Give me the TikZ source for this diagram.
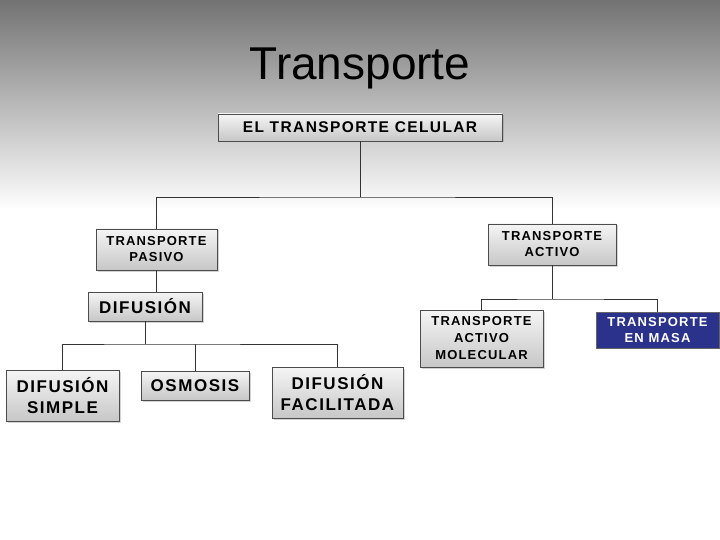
\documentclass[tikz,border=0pt]{standalone}
\usepackage{fontspec}
\setmainfont{Liberation Sans}
\newfontfamily\bx[LetterSpace=9]{Liberation Sans}
\usetikzlibrary{shadows}
\definecolor{navy}{RGB}{42,50,140}
\begin{document}
\begin{tikzpicture}[x=1pt,y=-1pt,
 box/.style={draw=black!70,line width=0.6pt,top color=black!4,bottom color=black!22,align=center,inner sep=0pt,drop shadow={shadow xshift=1.5pt,shadow yshift=-1.5pt,opacity=0.35}},
 link/.style={draw=black!80,line width=0.6pt}]
\useasboundingbox (0,0) rectangle (720,540);
\shade[top color=black!55,bottom color=white] (0,0) rectangle (720,210);
\node[font=\fontsize{46}{50}\selectfont] (title) at (360,68) {Transporte};
\node[box,minimum width=284pt,minimum height=27pt,font=\bx\bfseries\fontsize{15.5}{16}\selectfont] (root) at (360,127.5) {EL TRANSPORTE CELULAR};
\node[box,minimum width=121pt,minimum height=41pt,font=\bx\bfseries\fontsize{13}{16}\selectfont] (pas) at (156.5,249.5) {TRANSPORTE\\PASIVO};
\node[box,minimum width=128pt,minimum height=41pt,font=\bx\bfseries\fontsize{13}{16}\selectfont] (act) at (552,244.5) {TRANSPORTE\\ACTIVO};
\node[box,minimum width=114pt,minimum height=29pt,font=\bx\bfseries\fontsize{17}{18}\selectfont] (dif) at (145,306.5) {DIFUSIÓN};
\node[box,minimum width=113pt,minimum height=51pt,font=\bx\bfseries\fontsize{17}{21}\selectfont] (sim) at (62.5,395.5) {DIFUSIÓN\\SIMPLE};
\node[box,minimum width=108pt,minimum height=29pt,font=\bx\bfseries\fontsize{17}{18}\selectfont] (osm) at (195,385.5) {OSMOSIS};
\node[box,minimum width=131pt,minimum height=51pt,font=\bx\bfseries\fontsize{17}{21}\selectfont] (fac) at (337.5,392.5) {DIFUSIÓN\\FACILITADA};
\node[box,minimum width=123pt,minimum height=57pt,font=\bx\bfseries\fontsize{13}{17}\selectfont] (mol) at (481.5,338.5) {TRANSPORTE\\ACTIVO\\MOLECULAR};
\node[draw=black!60,fill=navy,text=white,align=center,inner sep=0pt,minimum width=123pt,minimum height=36pt,font=\bx\bfseries\fontsize{13}{16}\selectfont] (mas) at (657.5,330) {TRANSPORTE\\EN MASA};
\coordinate (b1) at (360,197);
\draw[link] (root.south) -- (b1);
\draw[link] (pas.north) |- (b1) -| (act.north);
\draw[link] (pas.south) -- (dif.north -| pas.south);
\coordinate (b2) at (145,344);
\draw[link] (dif.south) -- (b2);
\draw[link] (sim.north) |- (b2) -| (fac.north);
\draw[link] (osm.north) -- (osm.north |- b2);
\coordinate (b3) at (552,299);
\draw[link] (act.south) -- (b3);
\draw[link] (mol.north) |- (b3) -| (mas.north);
\end{tikzpicture}
\end{document}
